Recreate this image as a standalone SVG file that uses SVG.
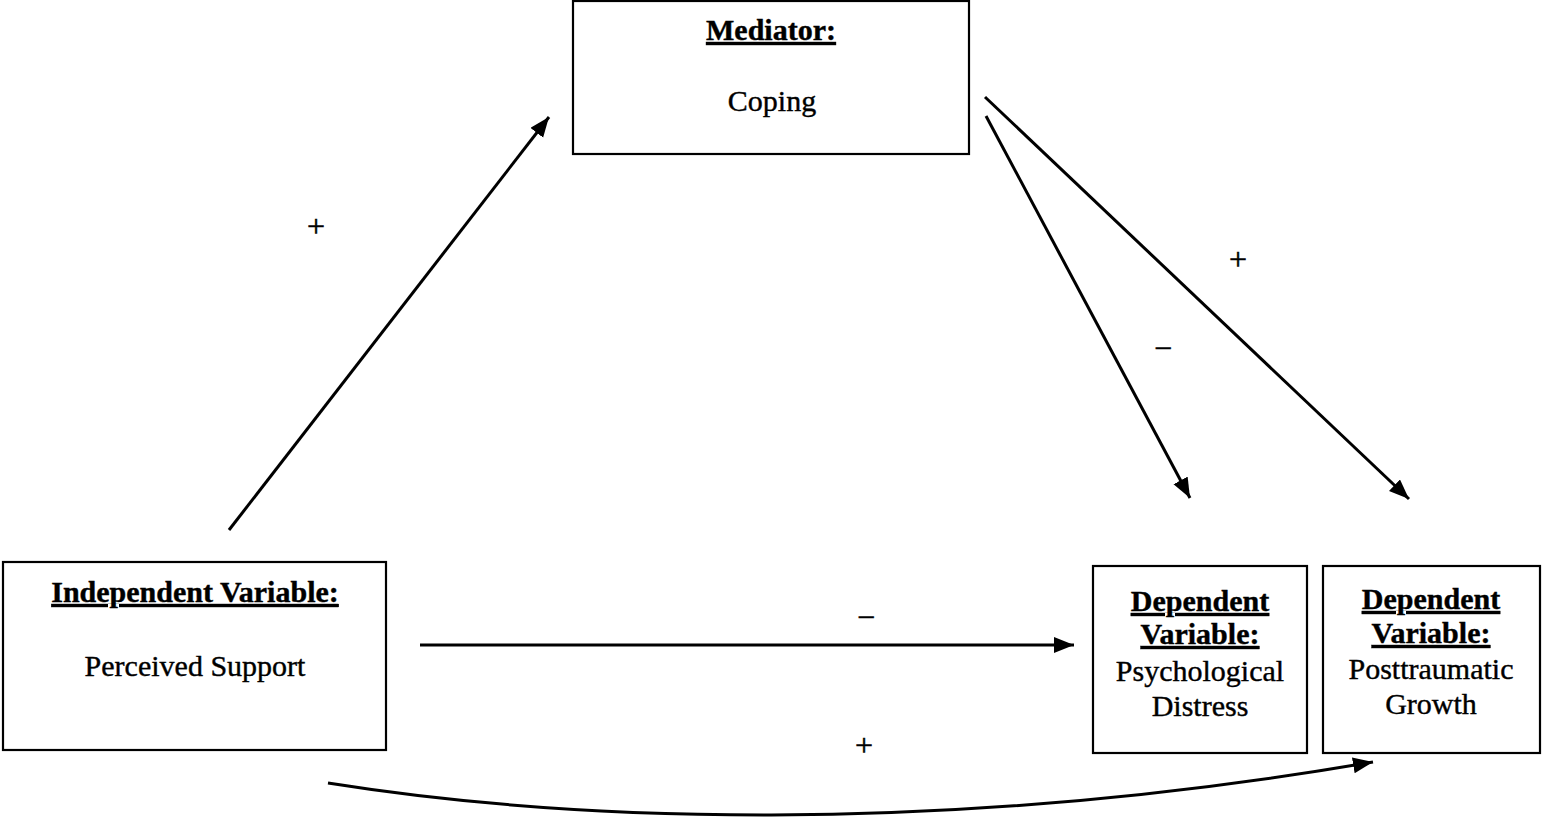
<svg xmlns="http://www.w3.org/2000/svg" width="1542" height="823" viewBox="0 0 1542 823">
<style>
.box{fill:#fff;stroke:#000;stroke-width:2.2}
.t{font-family:"Liberation Serif","Times New Roman",serif;font-size:30px;fill:#000;stroke:#000;stroke-width:0.4;text-anchor:middle}
.b{font-weight:bold;text-decoration:underline}
.c{fill:none;stroke:#000;stroke-width:3}
.s{font-family:"Liberation Serif","Times New Roman",serif;font-size:32px;fill:#000;stroke:#000;stroke-width:0.5;text-anchor:middle}
</style>
<defs>
<marker id="ah" markerUnits="userSpaceOnUse" markerWidth="24" markerHeight="18" refX="20" refY="8" orient="auto">
<path d="M0,0 L20,8 L0,16 z" fill="#000"/>
</marker>
</defs>
<rect width="1542" height="823" fill="#fff"/>
<g id="connectors">
<line class="c" x1="229" y1="530" x2="549" y2="117" marker-end="url(#ah)"/>
<line class="c" x1="985" y1="97" x2="1409" y2="499" marker-end="url(#ah)"/>
<line class="c" x1="986" y1="116" x2="1190" y2="498" marker-end="url(#ah)"/>
<line class="c" x1="420" y1="645" x2="1074" y2="645" marker-end="url(#ah)"/>
<path class="c" d="M328,783 C560,820 930,838 1373,762" marker-end="url(#ah)"/>
<text class="s" x="316" y="237">+</text>
<text class="s" x="1238" y="270">+</text>
<text class="s" x="1163" y="359">−</text>
<text class="s" x="866" y="628">−</text>
<text class="s" x="864" y="756">+</text>
</g>
<g id="mediator">
<rect class="box" x="573" y="1" width="396" height="153"/>
<text class="t b" x="771" y="40">Mediator:</text>
<text class="t" x="772" y="111">Coping</text>
</g>
<g id="independent">
<rect class="box" x="3" y="562" width="383" height="188"/>
<text class="t b" x="195" y="602">Independent Variable:</text>
<text class="t" x="195" y="676">Perceived Support</text>
</g>
<g id="dependent1">
<rect class="box" x="1093" y="566" width="214" height="187"/>
<text class="t b" x="1200" y="611">Dependent</text>
<text class="t b" x="1200" y="644">Variable:</text>
<text class="t" x="1200" y="681">Psychological</text>
<text class="t" x="1200" y="716">Distress</text>
</g>
<g id="dependent2">
<rect class="box" x="1323" y="566" width="217" height="187"/>
<text class="t b" x="1431" y="609">Dependent</text>
<text class="t b" x="1431" y="643">Variable:</text>
<text class="t" x="1431" y="679">Posttraumatic</text>
<text class="t" x="1431" y="714">Growth</text>
</g>
</svg>
